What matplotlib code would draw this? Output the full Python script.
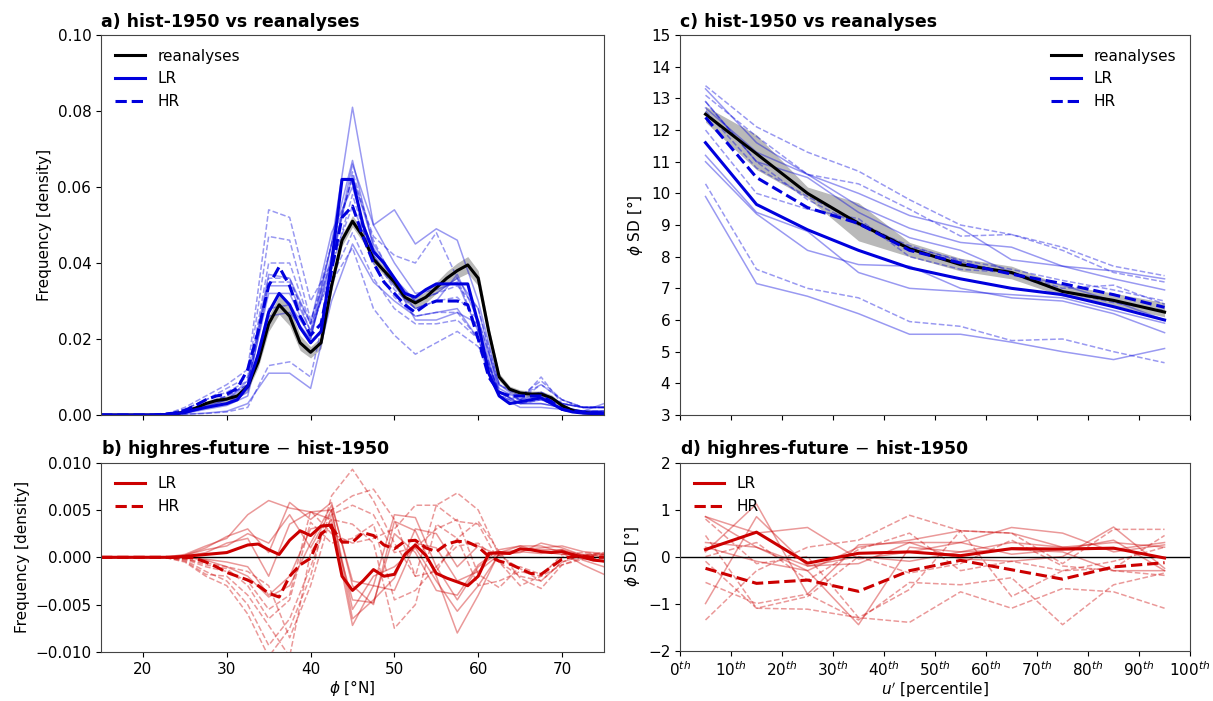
import numpy as np
import matplotlib
matplotlib.use("Agg")
import matplotlib.pyplot as plt

# latitude grids (means on 1.25 deg, members on 2.5 deg)
lat_fine = np.arange(15, 75.01, 1.25)
lat_coarse = np.arange(15, 75.01, 2.5)

# ---- panel a: hist-1950 vs reanalyses (density) ----
reana_a = [0, 0, 0, 0, 0, 0, 0.0001, 0.0003,
           0.0008, 0.0018, 0.003, 0.0038, 0.0042, 0.005, 0.0075, 0.014,
           0.024, 0.029, 0.026, 0.019, 0.0165, 0.019, 0.034, 0.046,
           0.051, 0.047, 0.041, 0.038, 0.035, 0.031, 0.0295, 0.031,
           0.0335, 0.036, 0.038, 0.0395, 0.036, 0.022, 0.010, 0.0068,
           0.0058, 0.0055, 0.0055, 0.0045, 0.0025, 0.0012, 0.0006, 0.0004,
           0.0004]
reana_a_spread = [0, 0, 0, 0, 0, 0, 0, 0.0001,
                  0.0002, 0.0004, 0.0006, 0.0008, 0.0008, 0.0008, 0.001, 0.0015,
                  0.002, 0.0025, 0.0025, 0.002, 0.0015, 0.0015, 0.0015, 0.0015,
                  0.0015, 0.0015, 0.0012, 0.0012, 0.0012, 0.0012, 0.0015, 0.0015,
                  0.0015, 0.0018, 0.002, 0.0022, 0.002, 0.0015, 0.001, 0.0008,
                  0.0008, 0.0008, 0.0008, 0.0008, 0.0006, 0.0004, 0.0002, 0.0002,
                  0.0002]
lr_a = [0, 0, 0, 0, 0, 0, 0.0001, 0.0003,
        0.0007, 0.0014, 0.002, 0.0025, 0.003, 0.004, 0.0075, 0.016,
        0.027, 0.032, 0.029, 0.023, 0.019, 0.022, 0.040, 0.062,
        0.062, 0.050, 0.043, 0.040, 0.036, 0.032, 0.031, 0.033,
        0.0345, 0.0345, 0.0345, 0.0345, 0.024, 0.011, 0.005, 0.003,
        0.0035, 0.004, 0.0045, 0.003, 0.0015, 0.0008, 0.0005, 0.0004,
        0.0004]
hr_a = [0, 0, 0, 0, 0, 0, 0.0002, 0.0005,
        0.0012, 0.0025, 0.004, 0.005, 0.0055, 0.007, 0.012, 0.022,
        0.034, 0.039, 0.034, 0.026, 0.021, 0.024, 0.038, 0.052,
        0.055, 0.047, 0.040, 0.035, 0.032, 0.029, 0.027, 0.029,
        0.030, 0.030, 0.030, 0.029, 0.020, 0.010, 0.006, 0.005,
        0.005, 0.005, 0.005, 0.0035, 0.0015, 0.001, 0.0008, 0.0006,
        0.0006]

lr_a_members = [
    [0, 0, 0, 0, 0.0005, 0.002, 0.003, 0.006, 0.026, 0.027, 0.020, 0.045, 0.081,
     0.050, 0.040, 0.032, 0.033, 0.035, 0.022, 0.005, 0.003, 0.004, 0.002, 0.001, 0.001],
    [0, 0, 0, 0, 0.0004, 0.0015, 0.0025, 0.005, 0.028, 0.029, 0.021, 0.040, 0.066,
     0.050, 0.054, 0.045, 0.049, 0.046, 0.030, 0.008, 0.004, 0.005, 0.003, 0.002, 0.002],
    [0, 0, 0, 0, 0.0002, 0.0005, 0.001, 0.003, 0.011, 0.011, 0.007, 0.030, 0.045,
     0.035, 0.030, 0.026, 0.027, 0.028, 0.020, 0.006, 0.003, 0.003, 0.002, 0.001, 0.001],
    [0, 0, 0, 0, 0.0006, 0.002, 0.004, 0.008, 0.032, 0.032, 0.020, 0.042, 0.063,
     0.045, 0.036, 0.030, 0.032, 0.036, 0.028, 0.006, 0.003, 0.003, 0.002, 0.001, 0.001],
    [0, 0, 0, 0, 0.0005, 0.0018, 0.003, 0.007, 0.034, 0.034, 0.022, 0.045, 0.067,
     0.044, 0.035, 0.025, 0.025, 0.027, 0.024, 0.005, 0.002, 0.002, 0.0015, 0.001, 0.003],
    [0, 0, 0, 0, 0.0007, 0.0025, 0.004, 0.009, 0.037, 0.036, 0.024, 0.048, 0.060,
     0.042, 0.034, 0.028, 0.030, 0.037, 0.025, 0.007, 0.004, 0.006, 0.003, 0.002, 0.002],
]
hr_a_members = [
    [0, 0, 0, 0, 0.002, 0.005, 0.008, 0.012, 0.054, 0.052, 0.030, 0.040, 0.055,
     0.042, 0.033, 0.028, 0.030, 0.031, 0.025, 0.008, 0.005, 0.006, 0.003, 0.002, 0.002],
    [0, 0, 0, 0, 0.0015, 0.004, 0.007, 0.010, 0.047, 0.046, 0.025, 0.040, 0.064,
     0.046, 0.035, 0.030, 0.032, 0.034, 0.028, 0.008, 0.005, 0.009, 0.004, 0.002, 0.002],
    [0, 0, 0, 0, 0.0002, 0.0004, 0.0008, 0.002, 0.013, 0.014, 0.010, 0.035, 0.044,
     0.028, 0.021, 0.016, 0.019, 0.022, 0.018, 0.005, 0.003, 0.004, 0.002, 0.001, 0.001],
    [0, 0, 0, 0, 0.001, 0.003, 0.005, 0.008, 0.035, 0.035, 0.024, 0.045, 0.062,
     0.047, 0.042, 0.040, 0.048, 0.036, 0.022, 0.006, 0.004, 0.008, 0.004, 0.002, 0.002],
    [0, 0, 0, 0, 0.0012, 0.003, 0.005, 0.008, 0.036, 0.036, 0.022, 0.038, 0.058,
     0.040, 0.031, 0.026, 0.027, 0.027, 0.020, 0.006, 0.005, 0.008, 0.004, 0.002, 0.002],
    [0, 0, 0, 0, 0.0015, 0.004, 0.006, 0.009, 0.040, 0.040, 0.024, 0.036, 0.048,
     0.036, 0.028, 0.024, 0.024, 0.025, 0.020, 0.005, 0.004, 0.010, 0.003, 0.002, 0.002],
]

# ---- panel b: highres-future - hist-1950 (density) ----
lr_b = [0, 0, 0, 0, 0, 0, 0, 0,
        0.0001, 0.0002, 0.0003, 0.0004, 0.0005, 0.0009, 0.0013, 0.0014,
        0.0008, 0.0003, 0.0018, 0.0028, 0.0023, 0.0033, 0.0034, -0.002,
        -0.0035, -0.0025, -0.0013, -0.002, -0.0018, 0.0003, 0.0013, 0.0002,
        -0.0017, -0.0022, -0.0026, -0.003, -0.002, 0.0004, 0.0005, 0.0004,
        0.0009, 0.0008, 0.0006, 0.0005, 0.0006, 0.0003, 0.0, -0.0003,
        -0.0004]
hr_b = [0, 0, 0, 0, 0, 0, 0, 0,
        0, -0.0001, -0.0005, -0.001, -0.0016, -0.002, -0.0024, -0.003,
        -0.0038, -0.0042, -0.002, -0.0008, -0.0001, 0.0025, 0.0032, 0.0016,
        0.0016, 0.0026, 0.0023, 0.0013, 0.0009, 0.0017, 0.0018, 0.001,
        0.0006, 0.0014, 0.0017, 0.0016, 0.0011, 0.0001, -0.0004, -0.0007,
        -0.0012, -0.0017, -0.0018, -0.001, -0.0002, 0.0001, 0.0001, 0,
        0]
lr_b_members = [
    [0, 0, 0, 0, 0.0003, 0.0012, 0.002, 0.0045, 0.006, 0.0052, 0.0048, 0.004, -0.0072,
     -0.003, 0.0045, 0.0042, -0.001, -0.0045, -0.001, 0.0005, 0.0012, 0.0012, 0.0005, -0.0008, -0.0018],
    [0, 0, 0, 0, 0.0002, 0.001, 0.0022, 0.003, 0.0005, 0.0058, 0.004, 0.0058, -0.003,
     -0.005, 0.0038, 0.0028, -0.002, -0.008, -0.004, 0.0005, 0.0008, 0.0008, 0.0008, -0.0003, -0.001],
    [0, 0, 0, 0, 0.0001, 0.0005, 0.0015, 0.002, -0.002, 0.0035, 0.0048, 0.005, -0.0055,
     -0.002, -0.001, 0.001, -0.0025, -0.0057, -0.003, 0.0003, 0.0005, 0.0015, 0.001, 0.0002, -0.0005],
    [0, 0, 0, 0, 0, -0.0002, -0.0005, -0.001, -0.004, -0.002, 0.003, 0.0035, -0.0045,
     -0.0048, 0.0025, 0.0005, -0.0035, -0.004, -0.0008, 0.0008, 0.0012, 0.0006, 0.0003, 0.0003, 0.0003],
    [0, 0, 0, 0, 0, -0.0003, -0.001, -0.002, -0.0042, -0.003, 0.0015, 0.0055, -0.0025,
     -0.003, -0.0035, 0.0015, 0.001, -0.0025, -0.0015, 0.0003, 0.0008, 0.001, 0.0012, 0.0006, 0.0004],
    [0, 0, 0, 0, 0.0002, 0.0008, 0.0012, 0.0025, 0.0015, 0.0045, 0.001, 0.005, -0.0065,
     -0.0045, -0.0022, 0.003, 0.0025, -0.001, 0.0012, 0.0002, 0.0006, 0.0004, 0.0008, 0.0002, 0.0001],
]
hr_b_members = [
    [0, 0, 0, 0, -0.0005, -0.002, -0.003, -0.006, -0.0105, -0.0075, -0.002, 0.0065, 0.0093,
     0.006, 0.0015, -0.002, 0.0055, 0.0068, 0.005, 0.0002, -0.0012, -0.0025, -0.0005, 0.0002, 0.0005],
    [0, 0, 0, 0, -0.0003, -0.0015, -0.0025, -0.005, -0.0093, -0.0065, -0.001, 0.005, 0.0065,
     0.0072, 0.004, -0.002, -0.0015, 0.002, 0.0038, 0.0006, -0.0022, -0.0033, -0.0008, 0, 0],
    [0, 0, 0, 0, -0.0004, -0.0018, -0.002, -0.004, -0.0072, -0.0105, 0.0005, 0.004, 0.0035,
     0.0015, -0.0075, -0.005, 0.0035, 0.002, -0.003, -0.0025, -0.0015, -0.002, -0.0008, -0.0002, 0],
    [0, 0, 0, 0, -0.0002, -0.001, -0.0015, -0.0025, -0.0055, -0.004, 0.0049, 0.0025, 0.0015,
     0.002, 0.003, 0.0055, 0.0055, 0.0038, 0.0035, -0.0005, -0.003, -0.002, 0.0003, 0.0005, 0.0003],
    [0, 0, 0, 0, -0.0001, -0.0008, -0.0012, -0.003, -0.0065, -0.0045, 0.0037, 0.0015, 0.002,
     0.0035, -0.0045, -0.0035, -0.001, 0.0012, 0.0015, -0.0005, -0.002, -0.0025, -0.0005, 0.0002, 0.0002],
    [0, 0, 0, 0, -0.0002, -0.0006, -0.001, -0.0015, -0.003, -0.0085, -0.003, 0.0045, 0.0055,
     0.0045, 0.0005, 0.001, 0.003, 0.004, -0.0018, -0.0032, -0.001, -0.0018, 0, 0.0002, 0.0003],
]

# ---- panel c / d: phi SD vs u' percentile ----
pct = [5, 15, 25, 35, 45, 55, 65, 75, 85, 95]
reana_c = [12.5, 11.25, 10.0, 9.05, 8.25, 7.75, 7.5, 6.9, 6.62, 6.25]
reana_c_lo = [12.25, 10.75, 9.85, 8.5, 8.0, 7.55, 7.3, 6.75, 6.45, 6.1]
reana_c_hi = [12.75, 11.85, 10.2, 9.7, 8.45, 7.95, 7.7, 7.1, 6.85, 6.55]
lr_c = [11.6, 9.65, 8.85, 8.2, 7.65, 7.3, 7.0, 6.8, 6.42, 6.0]
hr_c = [12.4, 10.5, 9.55, 9.05, 8.2, 7.8, 7.45, 7.15, 6.8, 6.4]
lr_c_members = [
    [9.9, 7.15, 6.75, 6.2, 5.55, 5.55, 5.3, 5.0, 4.75, 5.1],
    [11.0, 9.35, 8.2, 7.75, 7.7, 7.0, 6.7, 6.6, 6.2, 5.6],
    [11.2, 9.4, 8.8, 7.5, 7.0, 6.9, 6.8, 6.7, 6.3, 5.9],
    [13.3, 11.6, 10.6, 10.0, 9.3, 8.9, 7.9, 7.7, 7.55, 7.3],
    [12.7, 11.3, 10.6, 9.6, 8.9, 8.45, 8.3, 7.7, 7.3, 6.95],
    [12.9, 11.0, 10.5, 9.4, 8.6, 8.2, 7.5, 7.1, 6.6, 6.0],
]
hr_c_members = [
    [10.3, 7.6, 7.0, 6.7, 5.95, 5.8, 5.35, 5.4, 5.0, 4.65],
    [13.4, 12.1, 11.3, 10.7, 9.8, 9.0, 8.7, 8.3, 7.7, 7.4],
    [13.1, 11.8, 10.6, 10.3, 9.5, 8.65, 8.7, 8.2, 7.5, 7.2],
    [12.0, 10.0, 9.5, 9.2, 8.0, 7.6, 7.5, 7.0, 7.1, 6.5],
    [12.9, 11.0, 9.8, 9.0, 8.35, 7.85, 7.45, 6.9, 6.55, 6.3],
    [12.6, 10.8, 9.9, 9.1, 8.3, 7.9, 7.6, 7.25, 6.95, 6.6],
]
lr_d = [0.15, 0.52, -0.14, 0.07, 0.1, 0.02, 0.17, 0.16, 0.18, -0.03]
hr_d = [-0.25, -0.57, -0.5, -0.74, -0.3, -0.08, -0.28, -0.48, -0.22, -0.13]
lr_d_members = [
    [0.85, 0.5, 0.62, -0.05, 0.1, 0.3, 0.62, 0.5, 0.1, 0.25],
    [0.85, 0.2, -0.3, 0.2, 0.35, 0.55, 0.5, 0.2, 0.3, 0.2],
    [-1.0, 0.85, -0.2, -0.15, 0.3, 0.3, 0.05, 0.15, 0.35, -0.3],
    [0.1, 1.12, -0.8, 0.25, 0.3, -0.05, -0.1, 0.0, 0.63, -0.25],
    [0.2, -0.1, -0.3, -1.45, 0.2, 0.1, 0.15, 0.1, -0.3, -0.3],
    [0.3, 0.2, -0.2, 0.0, -0.1, 0.1, 0.3, 0.2, 0.15, 0.3],
]
hr_d_members = [
    [-1.35, -0.3, 0.2, 0.35, 0.88, 0.55, 0.5, -0.15, 0.58, 0.58],
    [0.45, -1.1, -1.12, -1.3, -1.4, -0.75, -1.1, -0.68, -0.75, -1.1],
    [-0.55, -1.0, -0.8, -1.35, -0.55, -0.6, -0.45, -1.45, -0.6, -0.35],
    [0.8, -0.15, 0.0, -1.3, -0.7, 0.55, -0.85, -0.3, -0.25, 0.45],
    [-0.1, -1.1, -0.85, 0.0, -0.35, -0.15, 0.35, -0.2, -0.3, -0.4],
    [0.0, 0.3, -0.5, 0.15, 0.5, -0.3, -0.1, -0.3, -0.1, 0.2],
]

pct_ticks = list(range(0, 101, 10))
pct_labels = [r'$%d^{th}$' % p for p in pct_ticks]

BLUE = '#0000dd'
RED = '#cc0000'
plt.rcParams['font.size'] = 11

fig = plt.figure(figsize=(12.13, 7.01), dpi=100)
ax_a = fig.add_axes([0.0833, 0.408, 0.4146, 0.542])
ax_b = fig.add_axes([0.0833, 0.070, 0.4146, 0.270])
ax_c = fig.add_axes([0.5606, 0.408, 0.4205, 0.542])
ax_d = fig.add_axes([0.5606, 0.072, 0.4205, 0.268])


def draw_members(ax, x, members, color, ls):
    for m in members:
        ax.plot(x, m, color=color, ls=ls, lw=1.1, alpha=0.4)


# panel a
draw_members(ax_a, lat_coarse, lr_a_members, BLUE, '-')
draw_members(ax_a, lat_coarse, hr_a_members, BLUE, '--')
lo = np.array(reana_a) - np.array(reana_a_spread)
hi = np.array(reana_a) + np.array(reana_a_spread)
ax_a.fill_between(lat_fine, lo, hi, color='grey', alpha=0.55, lw=0)
ax_a.plot(lat_fine, reana_a, color='k', lw=2.2, label='reanalyses')
ax_a.plot(lat_fine, lr_a, color=BLUE, lw=2.2, label='LR')
ax_a.plot(lat_fine, hr_a, color=BLUE, lw=2.2, ls='--', label='HR')
ax_a.set_xlim(15, 75)
ax_a.set_ylim(0, 0.1)
ax_a.set_xticks(range(20, 71, 10))
ax_a.set_xticklabels([])
ax_a.set_yticks([0, 0.02, 0.04, 0.06, 0.08, 0.10])
ax_a.set_ylabel('Frequency [density]')
ax_a.set_title('a) hist-1950 vs reanalyses', loc='left', fontweight='bold', fontsize=12.5)
ax_a.legend(loc='upper left', frameon=False)

# panel b
draw_members(ax_b, lat_coarse, lr_b_members, RED, '-')
draw_members(ax_b, lat_coarse, hr_b_members, RED, '--')
ax_b.axhline(0, color='k', lw=1)
ax_b.plot(lat_fine, lr_b, color=RED, lw=2.2, label='LR')
ax_b.plot(lat_fine, hr_b, color=RED, lw=2.2, ls='--', label='HR')
ax_b.set_xlim(15, 75)
ax_b.set_ylim(-0.01, 0.01)
ax_b.set_xticks(range(20, 71, 10))
ax_b.set_yticks([-0.01, -0.005, 0, 0.005, 0.01])
ax_b.set_xlabel(r'$\phi$ [°N]', labelpad=1)
ax_b.set_ylabel('Frequency [density]')
ax_b.set_title(r'b) highres-future $-$ hist-1950', loc='left', fontweight='bold', fontsize=12.5)
ax_b.legend(loc='upper left', frameon=False)

# panel c
draw_members(ax_c, pct, lr_c_members, BLUE, '-')
draw_members(ax_c, pct, hr_c_members, BLUE, '--')
ax_c.fill_between(pct, reana_c_lo, reana_c_hi, color='grey', alpha=0.55, lw=0)
ax_c.plot(pct, reana_c, color='k', lw=2.2, label='reanalyses')
ax_c.plot(pct, lr_c, color=BLUE, lw=2.2, label='LR')
ax_c.plot(pct, hr_c, color=BLUE, lw=2.2, ls='--', label='HR')
ax_c.set_xlim(0, 100)
ax_c.set_ylim(3, 15)
ax_c.set_xticks(pct_ticks)
ax_c.set_xticklabels([])
ax_c.set_yticks(range(3, 16))
ax_c.set_ylabel(r'$\phi$ SD [°]')
ax_c.set_title('c) hist-1950 vs reanalyses', loc='left', fontweight='bold', fontsize=12.5)
ax_c.legend(loc='upper right', frameon=False)

# panel d
draw_members(ax_d, pct, lr_d_members, RED, '-')
draw_members(ax_d, pct, hr_d_members, RED, '--')
ax_d.axhline(0, color='k', lw=1)
ax_d.plot(pct, lr_d, color=RED, lw=2.2, label='LR')
ax_d.plot(pct, hr_d, color=RED, lw=2.2, ls='--', label='HR')
ax_d.set_xlim(0, 100)
ax_d.set_ylim(-2, 2)
ax_d.set_xticks(pct_ticks)
ax_d.set_xticklabels(pct_labels)
ax_d.set_yticks([-2, -1, 0, 1, 2])
ax_d.set_xlabel(r"$u'$ [percentile]", labelpad=1)
ax_d.set_ylabel(r'$\phi$ SD [°]')
ax_d.set_title(r'd) highres-future $-$ hist-1950', loc='left', fontweight='bold', fontsize=12.5)
ax_d.legend(loc='upper left', frameon=False)

for ax in (ax_a, ax_b, ax_c, ax_d):
    for s in ax.spines.values():
        s.set_color('#444444')

fig.savefig('out.png', dpi=100)
